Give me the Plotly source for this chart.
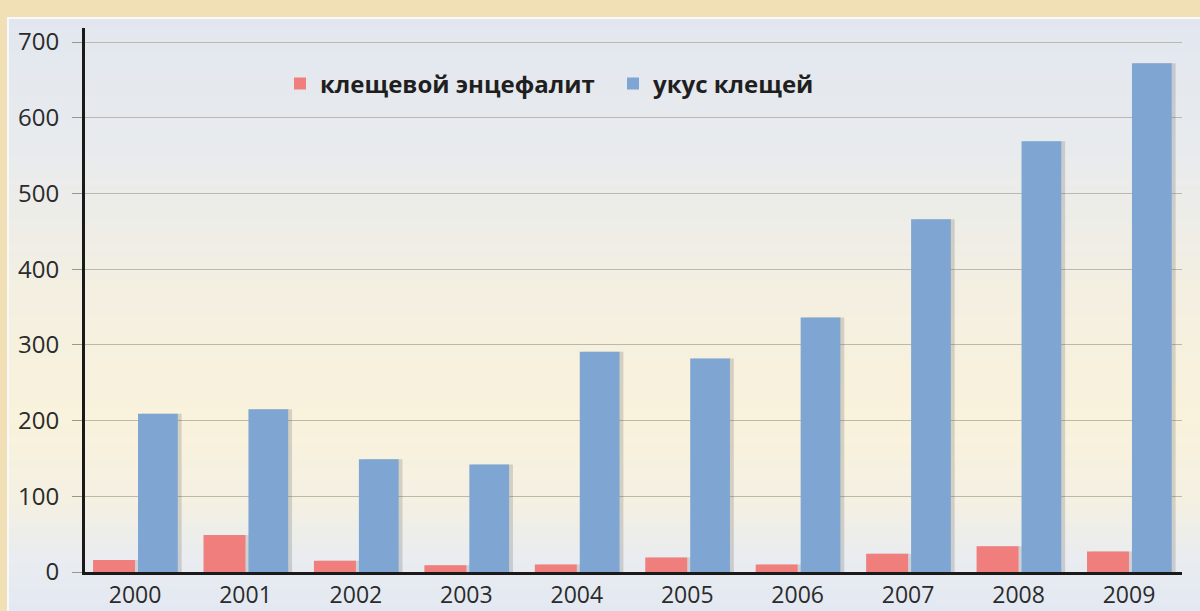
import plotly.graph_objects as go

years = ["2000", "2001", "2002", "2003", "2004", "2005", "2006", "2007", "2008", "2009"]
encephalitis = [16, 49, 15, 9, 10, 19, 10, 24, 34, 27]
tick_bites = [209, 215, 149, 142, 291, 282, 336, 466, 569, 672]
y_ticks = [0, 100, 200, 300, 400, 500, 600, 700]

name_red = "клещевой энцефалит"
name_blue = "укус клещей"

W, H = 1200, 611
L, R, T, B = 85, 18, 28, 39
pw, ph = W - L - R, H - T - B

def px(x):
    return (x - L) / pw

def py(y):
    return (H - B - y) / ph

def lerp(c1, c2, t):
    return tuple(round(a + (b - a) * t) for a, b in zip(c1, c2))

# background gradient stops (pixel y, rgb)
stops = [(17, (226, 231, 239)), (150, (232, 235, 238)), (300, (244, 239, 224)),
         (420, (249, 242, 220)), (500, (244, 240, 226)), (560, (233, 236, 240)), (611, (227, 232, 242))]

shapes = []
band = 6
y0 = 17
while y0 < H:
    y1 = min(y0 + band, H)
    ym = (y0 + y1) / 2
    for i in range(len(stops) - 1):
        if stops[i][0] <= ym <= stops[i + 1][0]:
            t = (ym - stops[i][0]) / (stops[i + 1][0] - stops[i][0])
            c = lerp(stops[i][1], stops[i + 1][1], t)
            break
    else:
        c = stops[-1][1]
    shapes.append(dict(type="rect", xref="paper", yref="paper", layer="below",
                       x0=px(7), x1=px(W), y0=py(y1 + 0.5), y1=py(y0),
                       fillcolor="rgb(%d,%d,%d)" % c, line=dict(width=0)))
    y0 = y1
shapes.append(dict(type="line", xref="paper", yref="paper", layer="below",
                   x0=px(7), x1=px(W), y0=py(18), y1=py(18), line=dict(color="#f8f9fb", width=2)))
shapes.append(dict(type="line", xref="paper", yref="paper", layer="below",
                   x0=px(8), x1=px(8), y0=py(18), y1=py(H), line=dict(color="#f8f9fb", width=2)))

red_off, red_w = -0.38, 0.38
blue_off, blue_w = 0.027, 0.36
sh = 0.035

fig = go.Figure()
fig.add_trace(go.Bar(x=years, y=encephalitis, offset=red_off + sh, width=red_w,
                     marker=dict(color="rgba(90,90,90,0.18)", line=dict(width=0)),
                     showlegend=False, hoverinfo="skip"))
fig.add_trace(go.Bar(x=years, y=tick_bites, offset=blue_off + sh, width=blue_w,
                     marker=dict(color="rgba(90,90,90,0.22)", line=dict(width=0)),
                     showlegend=False, hoverinfo="skip"))
fig.add_trace(go.Bar(x=years, y=encephalitis, offset=red_off, width=red_w, name=name_red,
                     marker=dict(color="#f07e7c", line=dict(width=0))))
fig.add_trace(go.Bar(x=years, y=tick_bites, offset=blue_off, width=blue_w, name=name_blue,
                     marker=dict(color="#7fa6d2", line=dict(width=0))))

font_family = "Open Sans, Noto Sans, DejaVu Sans"

fig.update_layout(
    width=W, height=H,
    margin=dict(l=L, r=R, t=T, b=B, pad=0, autoexpand=False),
    paper_bgcolor="#f1e0b6",
    plot_bgcolor="rgba(0,0,0,0)",
    barmode="overlay",
    shapes=shapes,
    font=dict(family=font_family, color="#2b2b2b", size=24),
    legend=dict(orientation="h", x=px(280), y=py(84), xanchor="left", yanchor="middle",
                bgcolor="rgba(0,0,0,0)", font=dict(size=24, color="#1f1f1f", weight="bold"),
                itemwidth=30, entrywidth=288, traceorder="normal"),
    xaxis=dict(type="category", range=[-0.453, 9.48], showgrid=False, automargin=False,
               showline=True, linecolor="#1a1a1a", linewidth=3,
               ticks="", tickfont=dict(size=23, color="#2b2b2b"), ticklabelstandoff=0),
    yaxis=dict(range=[0, 718.5], tickvals=y_ticks, showgrid=True, gridcolor="#bdb8aa", gridwidth=1,
               showline=True, linecolor="#1a1a1a", linewidth=3, zeroline=False, automargin=False,
               ticks="outside", ticklen=10, tickcolor="#9a978e", tickwidth=1,
               tickfont=dict(size=24, color="#2b2b2b"), ticklabelstandoff=8),
)

fig.write_html("out.html", config={"displayModeBar": False},
               post_script="document.body.style.margin='0px';")
